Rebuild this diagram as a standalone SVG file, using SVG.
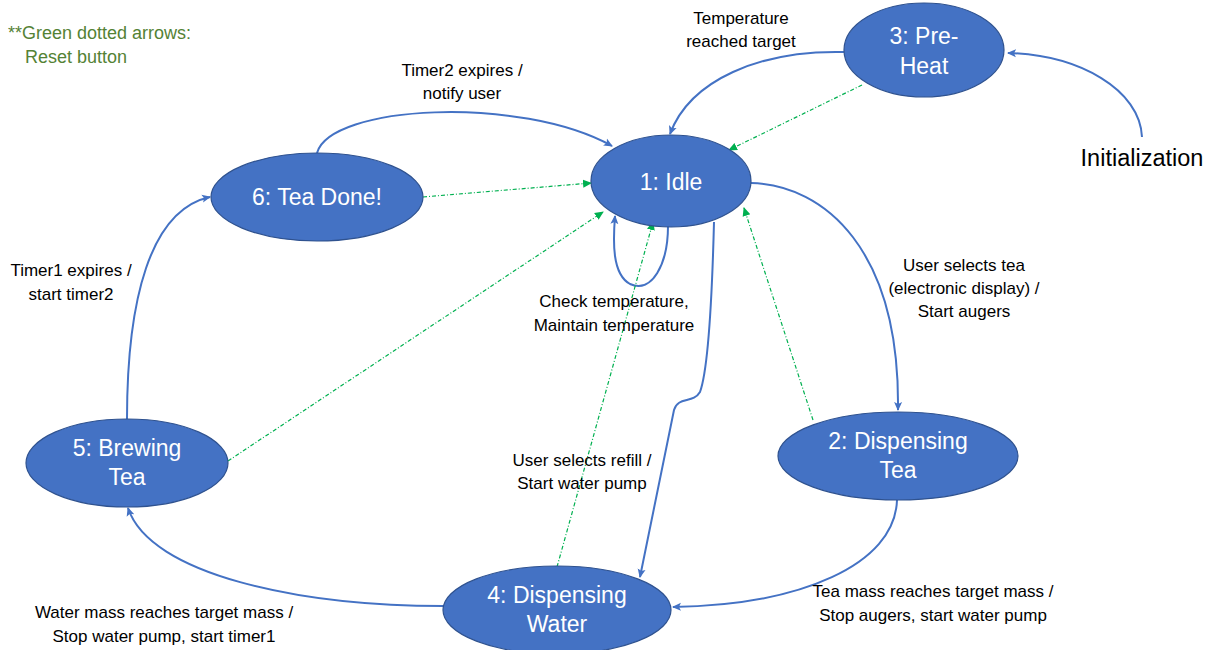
<svg xmlns="http://www.w3.org/2000/svg" width="1212" height="650" viewBox="0 0 1212 650">
<style>
.node{fill:#4472C4;stroke:#2F528F;stroke-width:1.2}
.nt{font-family:"Liberation Sans",Arial,sans-serif;font-size:23px;fill:#fff;text-anchor:middle}
.lb{font-family:"Liberation Sans",Arial,sans-serif;font-size:17px;fill:#000;text-anchor:middle}
.blue{fill:none;stroke:#4472C4;stroke-width:2}
.green{fill:none;stroke:#00B050;stroke-width:1.2;stroke-dasharray:4 2 1 2}
.gt{font-family:"Liberation Sans",Arial,sans-serif;font-size:18px;fill:#548235}
</style>
<defs>
<marker id="ab" markerWidth="10" markerHeight="10" refX="8" refY="5" orient="auto" markerUnits="userSpaceOnUse">
<path d="M0,1 L9,5 L0,9 L2,5 Z" fill="#4472C4"/>
</marker>
<marker id="ag" markerWidth="10" markerHeight="10" refX="8" refY="5" orient="auto" markerUnits="userSpaceOnUse">
<path d="M0,1 L9,5 L0,9 Z" fill="#00B050"/>
</marker>
</defs>
<rect width="1212" height="650" fill="#fff"/>
<g id="connectors">
<path class="blue" marker-end="url(#ab)" d="M317,153 C330,105 520,95 612,146"/>
<path class="blue" marker-end="url(#ab)" d="M844,52 C760,50 690,80 670,134"/>
<path class="blue" marker-end="url(#ab)" d="M1142,137 C1140,90 1080,55 1008,53"/>
<path class="blue" marker-end="url(#ab)" d="M668,226 C668,264 652,294 630,284 C612,274 613,242 615,216"/>
<path class="blue" marker-end="url(#ab)" d="M751,183 C825,185 900,250 898,410"/>
<path class="blue" marker-end="url(#ab)" d="M714,222 C712,300 708,370 700,392 C693,404 678,396 674,410 L640,577"/>
<path class="blue" marker-end="url(#ab)" d="M897,500 C895,565 800,605 673,607"/>
<path class="blue" marker-end="url(#ab)" d="M443,606 C300,606 150,575 128,508"/>
<path class="blue" marker-end="url(#ab)" d="M127,419 C127,300 150,210 210,197"/>
<path class="green" marker-end="url(#ag)" d="M862,85 L729,150"/>
<path class="green" marker-end="url(#ag)" d="M423,197 L591,183"/>
<path class="green" marker-end="url(#ag)" d="M228,461 L603,212"/>
<path class="green" marker-end="url(#ag)" d="M557,567 L653,222"/>
<path class="green" marker-end="url(#ag)" d="M813,420 L744,208"/>
</g>
<g id="n1"><ellipse class="node" cx="671" cy="181" rx="80" ry="46"/><text class="nt" x="671" y="190">1: Idle</text></g>
<g id="n2"><ellipse class="node" cx="898" cy="456" rx="120" ry="44"/><text class="nt" x="898" y="449">2: Dispensing</text><text class="nt" x="898" y="478">Tea</text></g>
<g id="n3"><ellipse class="node" cx="924" cy="50" rx="80" ry="47"/><text class="nt" x="924" y="44">3: Pre-</text><text class="nt" x="924" y="74">Heat</text></g>
<g id="n4"><ellipse class="node" cx="557" cy="610" rx="114" ry="44"/><text class="nt" x="557" y="603">4: Dispensing</text><text class="nt" x="557" y="632">Water</text></g>
<g id="n5"><ellipse class="node" cx="127" cy="463" rx="101" ry="44"/><text class="nt" x="127" y="456">5: Brewing</text><text class="nt" x="127" y="485">Tea</text></g>
<g id="n6"><ellipse class="node" cx="317" cy="197" rx="106" ry="44"/><text class="nt" x="317" y="205">6: Tea Done!</text></g>
<g id="labels">
<text class="lb" x="741" y="24">Temperature</text>
<text class="lb" x="741" y="47">reached target</text>
<text class="lb" x="462" y="76">Timer2 expires /</text>
<text class="lb" x="462" y="99">notify user</text>
<text class="lb" x="1142" y="166" style="font-size:23.5px">Initialization</text>
<text class="lb" x="964" y="271">User selects tea</text>
<text class="lb" x="964" y="294">(electronic display) /</text>
<text class="lb" x="964" y="317">Start augers</text>
<text class="lb" x="614" y="307">Check temperature,</text>
<text class="lb" x="614" y="331">Maintain temperature</text>
<text class="lb" x="71" y="276">Timer1 expires /</text>
<text class="lb" x="71" y="300">start timer2</text>
<text class="lb" x="582" y="466">User selects refill /</text>
<text class="lb" x="582" y="489">Start water pump</text>
<text class="lb" x="933" y="597">Tea mass reaches target mass /</text>
<text class="lb" x="933" y="621">Stop augers, start water pump</text>
<text class="lb" x="164" y="618">Water mass reaches target mass /</text>
<text class="lb" x="164" y="642">Stop water pump, start timer1</text>
<text class="gt" x="8" y="39">**Green dotted arrows:</text>
<text class="gt" x="25" y="63">Reset button</text>
</g>
</svg>
